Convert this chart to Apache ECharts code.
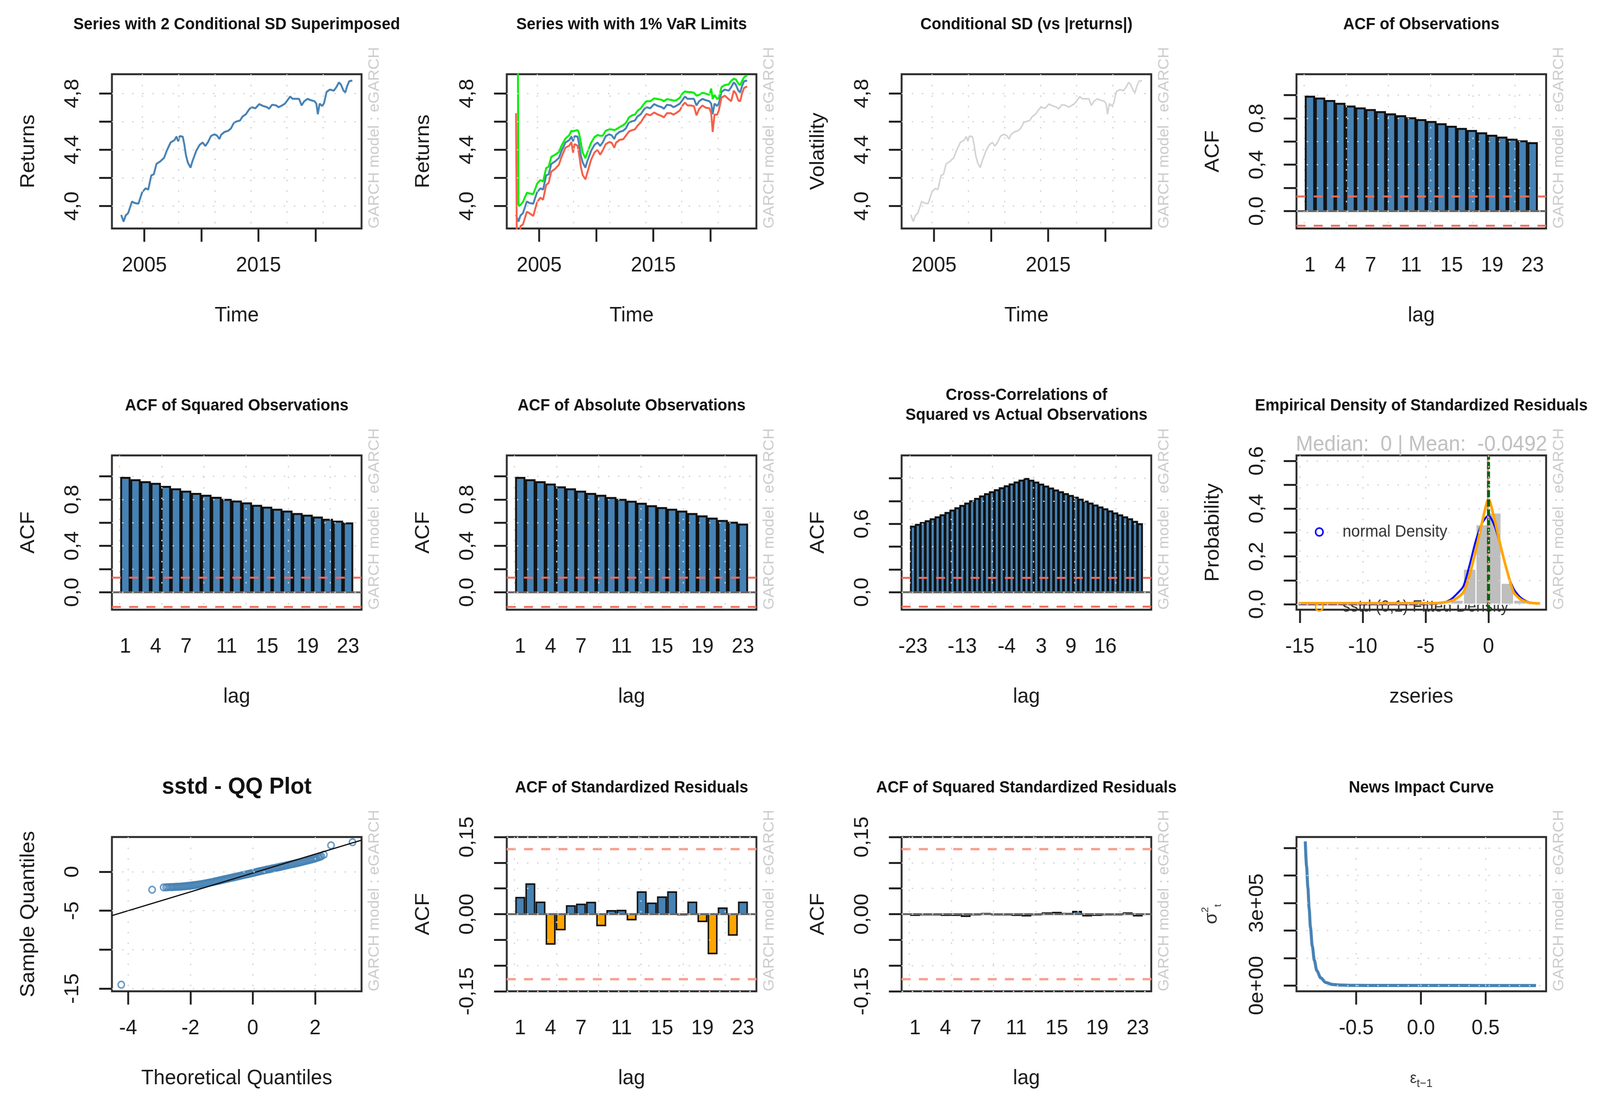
<!DOCTYPE html>
<html><head><meta charset="utf-8">
<script src="https://cdn.jsdelivr.net/npm/echarts@6/dist/echarts.min.js"></script>
<style>
html,body{margin:0;padding:0;background:#fff;overflow:hidden;width:100%;height:100%}
#wrap{position:fixed;left:0;top:0;width:100vw;height:100vh;overflow:hidden;background:#fff}
#c{position:absolute;left:0;top:0;width:4275px;height:2824px;transform-origin:0 0}
</style>
</head><body><div id="wrap"><div id="c"></div></div>
<script>
// ---------------- DATA ----------------
const years = [2002.97,2003.18,2003.36,2003.58,2003.92,2004.14,2004.48,2004.82,2005.11,2005.34,
2005.61,2005.83,2006.06,2006.40,2006.73,2006.96,2007.30,2007.64,2007.82,2007.97,
2008.09,2008.36,2008.49,2008.65,2008.81,2009.05,2009.21,2009.55,2009.84,2010.11,
2010.34,2010.56,2010.83,2011.13,2011.35,2011.58,2011.73,2012.03,2012.36,2012.59,
2012.86,2013.15,2013.38,2013.60,2013.90,2014.17,2014.39,2014.73,2015.07,2015.41,
2015.74,2015.92,2016.19,2016.53,2016.76,2016.98,2017.32,2017.55,2017.77,2018.00,
2018.27,2018.56,2018.78,2019.01,2019.30,2019.57,2019.91,2020.07,2020.20,2020.36,
2020.59,2020.74,2020.97,2021.26,2021.60,2021.82,2022.05,2022.23,2022.45,2022.61,
2022.77,2022.95,2023.22];
const returnsSeries = [3.938,3.890,3.933,3.950,4.033,4.022,4.017,4.100,4.126,4.117,
4.218,4.226,4.300,4.318,4.343,4.393,4.452,4.469,4.494,4.460,
4.497,4.494,4.444,4.360,4.310,4.273,4.318,4.393,4.435,4.452,
4.427,4.452,4.497,4.510,4.502,4.477,4.507,4.527,4.536,4.552,
4.594,4.603,4.608,4.636,4.653,4.686,4.703,4.695,4.725,4.711,
4.703,4.691,4.720,4.716,4.703,4.711,4.728,4.753,4.778,4.762,
4.762,4.762,4.715,4.745,4.762,4.753,4.745,4.728,4.653,4.728,
4.711,4.731,4.812,4.828,4.820,4.845,4.879,4.862,4.820,4.808,
4.853,4.887,4.892];
const varUpper = [9.000,4.000,4.008,4.030,4.095,4.090,4.085,4.160,4.185,4.175,
4.270,4.280,4.350,4.365,4.385,4.430,4.480,4.505,4.535,4.530,
4.535,4.540,4.520,4.450,4.380,4.340,4.380,4.450,4.490,4.505,
4.500,4.500,4.535,4.545,4.545,4.540,4.545,4.560,4.575,4.590,
4.630,4.645,4.650,4.675,4.695,4.725,4.745,4.745,4.765,4.760,
4.755,4.745,4.760,4.755,4.750,4.750,4.770,4.800,4.815,4.810,
4.810,4.805,4.785,4.790,4.805,4.800,4.790,4.835,4.760,4.790,
4.760,4.770,4.845,4.860,4.865,4.890,4.905,4.900,4.870,4.860,
4.890,4.915,4.930];
const varLower = [4.660,2.000,3.858,3.870,3.960,3.950,3.930,4.030,4.060,4.045,
4.150,4.165,4.245,4.265,4.295,4.350,4.415,4.430,4.455,4.380,
4.440,4.430,4.370,4.280,4.220,4.190,4.235,4.330,4.380,4.400,
4.365,4.395,4.440,4.455,4.450,4.415,4.450,4.470,4.475,4.500,
4.530,4.540,4.545,4.570,4.595,4.630,4.655,4.645,4.665,4.650,
4.640,4.630,4.660,4.660,4.650,4.660,4.680,4.715,4.735,4.715,
4.715,4.710,4.645,4.690,4.715,4.700,4.695,4.660,4.527,4.650,
4.650,4.680,4.770,4.785,4.760,4.745,4.820,4.800,4.750,4.745,
4.800,4.840,4.850];
const timeXTicks = [2005, 2010, 2015, 2020];
const timeXLabels = [2005, 2015];
const timeYTicks = [4.0, 4.2, 4.4, 4.6, 4.8];
const timeYLabels = [4.0, 4.4, 4.8];
const timeGridYears = [2004.82, 2008.01, 2011.18, 2014.32, 2017.47, 2020.65];

const lags = [1,2,3,4,5,6,7,8,9,10,11,12,13,14,15,16,17,18,19,20,21,22,23];
const acfObs = [0.986,0.970,0.949,0.925,0.901,0.885,0.871,0.853,0.834,0.818,0.800,0.784,0.768,0.749,0.727,0.709,0.691,0.671,0.650,0.634,0.616,0.602,0.586];
const acfSq  = [0.986,0.966,0.949,0.935,0.909,0.888,0.868,0.848,0.832,0.815,0.797,0.783,0.767,0.746,0.730,0.712,0.696,0.675,0.661,0.645,0.625,0.609,0.594];
const acfAbs = [0.986,0.966,0.949,0.929,0.905,0.888,0.868,0.848,0.832,0.813,0.797,0.781,0.763,0.742,0.726,0.712,0.696,0.675,0.655,0.635,0.615,0.600,0.584];
const acfLagLabels = [1, 4, 7, 11, 15, 19, 23];
const acfYTicks = [0, 0.2, 0.4, 0.6, 0.8, 1.0];
const acfYLabels = [0, 0.4, 0.8];
const confLimit = 0.1265;

const ccfLags = [-23,-22,-21,-20,-19,-18,-17,-16,-15,-14,-13,-12,-11,-10,-9,-8,-7,-6,-5,-4,-3,-2,-1,0,
  1,2,3,4,5,6,7,8,9,10,11,12,13,14,15,16,17,18,19,20,21,22,23];
const ccfVals = [0.576,0.591,0.607,0.623,0.640,0.657,0.675,0.696,0.716,0.737,0.757,0.778,0.798,0.819,0.840,0.860,0.877,0.895,0.912,0.929,0.946,0.963,0.979,0.994,
  0.978,0.962,0.944,0.927,0.910,0.893,0.877,0.861,0.845,0.829,0.812,0.795,0.778,0.761,0.744,0.727,0.709,0.691,0.674,0.657,0.640,0.618,0.597];
const ccfLagLabels = [-23, -13, -4, 3, 9, 16];
const ccfYLabels = [0, 0.6];

const histLeft = [-15, -4, -3, -2, -1, 0, 1, 2, 3];
const histBinWidth = 1;
const histDensity = [0.004, 0.004, 0.017, 0.147, 0.333, 0.382, 0.088, 0.017, 0.008];
const densX    = [-15.1, -5, -4, -3.5, -3, -2.5, -2, -1.5, -1, -0.5, 0, 0.5, 1, 1.5, 2, 2.5, 3, 3.5, 4.1];
const normDens = [0.000, 0.000, 0.003, 0.008, 0.020, 0.044, 0.075, 0.165, 0.268, 0.340, 0.372, 0.325, 0.235, 0.132, 0.064, 0.030, 0.013, 0.005, 0.002];
const sstdDens = [0.004, 0.004, 0.005, 0.008, 0.013, 0.026, 0.050, 0.122, 0.228, 0.345, 0.440, 0.350, 0.235, 0.135, 0.050, 0.022, 0.010, 0.005, 0.003];
const zMedian = 0;
const zMean = -0.0492;
const densXTicks = [-15, -10, -5, 0];
const densYTicks = [0, 0.1, 0.2, 0.3, 0.4, 0.5, 0.6];
const densYLabels = [0, 0.2, 0.4, 0.6];

const qqX = [-4.22,-3.23,-2.86,-2.78,-2.72,-2.65,-2.6,-2.55,-2.5,-2.45,-2.4,-2.35,-2.3,-2.25,-2.2,-2.15,-2.1,-2.05,-2.0,-1.95,-1.9,-1.85,-1.8,-1.75,-1.7,-1.65,-1.6,-1.55,-1.5,-1.45,-1.4,-1.35,-1.3,-1.25,-1.2,-1.15,-1.1,-1.05,-1.0,
  -0.95,-0.9,-0.85,-0.8,-0.75,-0.7,-0.65,-0.6,-0.55,-0.5,-0.45,-0.4,-0.35,-0.3,-0.25,-0.2,-0.15,-0.1,-0.05,0.0,0.05,0.1,0.15,0.2,0.25,0.3,0.35,0.4,0.45,0.5,0.55,0.6,0.65,0.7,0.75,0.8,0.85,0.9,0.95,1.0,
  1.05,1.1,1.15,1.2,1.25,1.3,1.35,1.4,1.45,1.5,1.55,1.6,1.65,1.7,1.75,1.8,1.85,1.9,1.95,2.0,2.05,2.1,2.15,2.2,2.28,2.51,3.2];
const qqY = [-14.5,-2.3,-2.0,-1.99,-1.98,-1.97,-1.96,-1.95,-1.94,-1.93,-1.92,-1.91,-1.9,-1.88,-1.86,-1.84,-1.82,-1.80,-1.78,-1.755,-1.73,-1.705,-1.68,-1.65,-1.62,-1.585,-1.55,-1.515,-1.48,-1.44,-1.40,-1.36,-1.32,-1.275,-1.23,-1.185,-1.14,-1.095,-1.05,
  -1.005,-0.96,-0.915,-0.87,-0.825,-0.78,-0.735,-0.69,-0.645,-0.60,-0.555,-0.51,-0.465,-0.42,-0.375,-0.33,-0.285,-0.24,-0.195,-0.15,-0.10,-0.05,0.0,0.05,0.095,0.14,0.185,0.23,0.275,0.32,0.36,0.40,0.44,0.48,0.525,0.57,0.615,0.66,0.705,0.75,
  0.795,0.84,0.885,0.93,0.975,1.02,1.065,1.11,1.155,1.20,1.25,1.30,1.35,1.40,1.45,1.50,1.55,1.60,1.66,1.72,1.785,1.85,1.925,2.0,2.2,3.4,3.8];
const qqLineX = [-4.52, 3.49];
const qqLineY = [-5.63, 4.07];
const qqXTicks = [-4, -2, 0, 2];
const qqYTicks = [0, -5, -10, -15];
const qqYLabels = [0, -5, -15];

const residAcf = [0.032,0.0585,0.023,-0.058,-0.030,0.016,0.019,0.0226,-0.022,0.0065,0.007,-0.0106,0.043,0.021,0.033,0.043,-0.001,0.023,-0.014,-0.0765,0.0115,-0.0405,0.023];
const sqResidAcf = [-0.002,-0.001,-0.001,-0.002,-0.002,-0.004,-0.001,0.001,-0.001,-0.001,-0.002,-0.003,-0.001,0.002,0.003,0.001,0.005,-0.003,-0.002,-0.001,-0.001,0.002,-0.003];
const residYTicks = [-0.15, -0.10, -0.05, 0, 0.05, 0.10, 0.15];
const residYLabels = [-0.15, 0, 0.15];

const nicX = [-0.894,-0.884,-0.874,-0.864,-0.854,-0.840,-0.824,-0.805,-0.775,-0.735,-0.686,-0.626,-0.517,-0.3,0,0.3,0.6,0.89];
const nicY = [524000,434000,357000,280000,212000,144000,92000,54000,28000,11000,4000,1700,500,200,150,130,110,100];
const nicXTicks = [-0.5, 0, 0.5];
const nicYTicks = [0, 100000, 200000, 300000, 400000, 500000];
const nicYLabels = [0, 300000];

// ---------------- LAYOUT / STYLE ----------------
const FONT = "'Liberation Sans', Arial, Helvetica, sans-serif";
const COLS = [299, 1354, 2409, 3464];
const ROWS = [190, 1166, 2143];
const BOX_W = 667, BOX_H = 395;
const TITLE_Y = [63, 1039, 2017];
const TEXT = '#1a1a1a';
const LBL = 54;
const GRID_LINE = {type: [4, 23], color: '#D3D3D3', width: 3};
// barplot geometry (R barplot width 1, space 0.2) expressed in lag units
const ACF_XMIN = -0.33, ACF_XMAX = 24.33;
const ACF_GRID = [0.417, 4.583, 8.75, 12.917, 17.083, 21.25];
const CCF_XMIN = -25.29, CCF_XMAX = 25.29;
const CCF_GRID = [-23.583, -15.25, -6.917, 1.417, 9.75, 18.083];
const BAR_HALF = 0.4167;

const grids = [], xAxes = [], yAxes = [], series = [], graphics = [];
const comma = d => v => v.toFixed(d).replace('.', ',');

function panel(o) {
  const g = grids.length;
  const left = COLS[o.col], top = ROWS[o.row];
  grids.push({left, top, width: BOX_W, height: BOX_H, show: true, borderColor: '#2b2b2b', borderWidth: 5, backgroundColor: '#fff', containLabel: false});
  const xi = xAxes.length;
  xAxes.push({
    type: 'value', gridIndex: g, position: 'bottom', min: o.xmin, max: o.xmax,
    axisLine: {show: false, onZero: false},
    axisTick: {show: !!o.xTicks, length: 34, lineStyle: {color: '#222', width: 5}, customValues: o.xTicks || o.xLabels},
    axisLabel: {show: true, customValues: o.xLabels, formatter: o.xFmt, fontSize: LBL, color: TEXT, fontFamily: FONT, margin: 68},
    splitLine: {show: false},
    name: o.xName, nameLocation: 'middle', nameGap: 196,
    nameTextStyle: Object.assign({fontSize: LBL, color: TEXT, fontFamily: FONT}, o.xNameStyle || {})
  });
  xAxes.push({
    type: 'value', gridIndex: g, position: 'top', min: o.xmin, max: o.xmax, z: 6,
    axisLine: {show: false, onZero: false}, axisTick: {show: false, customValues: o.xGrid},
    axisLabel: {show: false}, splitLine: {show: true, lineStyle: GRID_LINE}
  });
  const yi = yAxes.length;
  yAxes.push({
    type: 'value', gridIndex: g, position: 'left', min: o.ymin, max: o.ymax,
    axisLine: {show: false, onZero: false},
    axisTick: {show: true, length: 34, lineStyle: {color: '#222', width: 5}, customValues: o.yTicks},
    axisLabel: {show: true, customValues: o.yLabels, formatter: o.yFmt, rotate: 90, fontSize: LBL, color: TEXT, fontFamily: FONT, margin: 78},
    splitLine: {show: false},
    name: o.yName, nameLocation: 'middle', nameGap: 196,
    nameTextStyle: Object.assign({fontSize: LBL, color: TEXT, fontFamily: FONT}, o.yNameStyle || {})
  });
  yAxes.push({
    type: 'value', gridIndex: g, position: 'right', min: o.ymin, max: o.ymax, z: 6,
    axisLine: {show: false, onZero: false}, axisTick: {show: false, customValues: o.yGrid || o.yTicks},
    axisLabel: {show: false}, splitLine: {show: true, lineStyle: GRID_LINE}
  });
  graphics.push({type: 'text', x: left + BOX_W / 2, y: o.titleY || TITLE_Y[o.row], z: 10,
    style: {text: o.title, fontSize: o.titleSize || 42, fontWeight: 'bold', fontFamily: FONT, fill: '#111', align: 'center', verticalAlign: 'middle', lineHeight: 51}});
  graphics.push({type: 'text', x: left + BOX_W + 35, y: top + BOX_H, rotation: Math.PI / 2, z: 10,
    style: {text: 'GARCH model : eGARCH', fontSize: 40, fontFamily: FONT, fill: '#CCCCCC', align: 'left', verticalAlign: 'middle'}});
  return {g, xi, yi, left, top, o};
}

function hline(p, yv, color, width, type, z) {
  series.push({type: 'line', xAxisIndex: p.xi, yAxisIndex: p.yi, symbol: 'none', silent: true, z: z || 3,
    data: [[p.o.xmin, yv], [p.o.xmax, yv]], lineStyle: {color, width, type: type || 'solid'}});
}
function vline(p, xv, color, width, type, z) {
  series.push({type: 'line', xAxisIndex: p.xi, yAxisIndex: p.yi, symbol: 'none', silent: true, z: z || 3,
    data: [[xv, p.o.ymin], [xv, p.o.ymax]], lineStyle: {color, width, type: type || 'solid'}});
}
function bars(p, xs, vals, pos, neg, bw) {
  series.push({type: 'custom', xAxisIndex: p.xi, yAxisIndex: p.yi, clip: true, z: 2,
    data: xs.map((x, i) => [x, vals[i]]), encode: {x: 0, y: 1},
    renderItem: (params, api) => {
      const x = api.value(0), v = api.value(1);
      const a = api.coord([x - BAR_HALF, v]), b = api.coord([x + BAR_HALF, 0]);
      return {type: 'rect', shape: {x: a[0], y: Math.min(a[1], b[1]), width: b[0] - a[0], height: Math.abs(b[1] - a[1])},
        style: {fill: v >= 0 ? pos : neg, stroke: '#111', lineWidth: bw || 5}};
    }});
}

// ---------------- PANELS ----------------
const TIME = {xmin: 2002.16, xmax: 2024.03, ymin: 3.841, ymax: 4.937,
  xTicks: timeXTicks, xLabels: timeXLabels, xFmt: v => String(v), xGrid: timeGridYears,
  yTicks: timeYTicks, yLabels: timeYLabels, yFmt: comma(1), xName: 'Time'};
function line(p, vals, color, width, z) {
  series.push({type: 'line', xAxisIndex: p.xi, yAxisIndex: p.yi, symbol: 'none', clip: true, z: z || 2,
    data: years.map((t, i) => [t, vals[i]]), lineStyle: {color, width}});
}
const p1 = panel(Object.assign({col: 0, row: 0, title: 'Series with 2 Conditional SD Superimposed', yName: 'Returns'}, TIME));
line(p1, returnsSeries, '#4682B4', 5);
const p2 = panel(Object.assign({col: 1, row: 0, title: 'Series with with 1% VaR Limits', yName: 'Returns'}, TIME));
line(p2, returnsSeries, '#4682B4', 5);
line(p2, varUpper, '#00EE00', 5, 3);
line(p2, varLower, '#F4604A', 5, 3);
const p3 = panel(Object.assign({col: 2, row: 0, title: 'Conditional SD (vs |returns|)', yName: 'Volatility'}, TIME));
line(p3, returnsSeries, '#D3D3D3', 4);

function acfPanel(col, row, title, vals, limColor) {
  const p = panel({col, row, title, xmin: ACF_XMIN, xmax: ACF_XMAX, ymin: -0.15, ymax: 1.18,
    xLabels: acfLagLabels, xFmt: v => String(v), xGrid: ACF_GRID,
    yTicks: acfYTicks, yLabels: acfYLabels, yFmt: comma(1), xName: 'lag', yName: 'ACF'});
  bars(p, lags, vals, '#4682B4', '#FFA500', 5);
  hline(p, 0, '#666', 5);
  hline(p, confLimit, limColor, 5, [24, 22]);
  hline(p, -confLimit, limColor, 5, [24, 22]);
  return p;
}
acfPanel(3, 0, 'ACF of Observations', acfObs, '#F26B5B');
acfPanel(0, 1, 'ACF of Squared Observations', acfSq, '#F26B5B');
acfPanel(1, 1, 'ACF of Absolute Observations', acfAbs, '#F26B5B');

const p7 = panel({col: 2, row: 1, title: 'Cross-Correlations of\nSquared vs Actual Observations', titleY: 1038,
  xmin: CCF_XMIN, xmax: CCF_XMAX, ymin: -0.153, ymax: 1.2,
  xLabels: ccfLagLabels, xFmt: v => String(v), xGrid: CCF_GRID,
  yTicks: acfYTicks, yLabels: ccfYLabels, yFmt: comma(1), xName: 'lag', yName: 'ACF'});
bars(p7, ccfLags, ccfVals, '#4682B4', '#FFA500', 5);
hline(p7, 0, '#666', 5);
hline(p7, confLimit, '#F26B5B', 5, [24, 22]);
hline(p7, -confLimit, '#F26B5B', 5, [24, 22]);

const p8 = panel({col: 3, row: 1, title: 'Empirical Density of Standardized Residuals',
  xmin: -15.27, xmax: 4.58, ymin: -0.023, ymax: 0.623,
  xTicks: densXTicks, xLabels: densXTicks, xFmt: v => String(v), xGrid: densXTicks,
  yTicks: densYTicks, yLabels: densYLabels, yFmt: comma(1), xName: 'zseries', yName: 'Probability'});
graphics.push({type: 'text', x: 3587, y: 1554, z: 0,
  style: {text: 'sstd (0,1) Fitted Density', fontSize: 42, fontFamily: FONT, fill: '#333', align: 'left', verticalAlign: 'middle'}});
series.push({type: 'custom', xAxisIndex: p8.xi, yAxisIndex: p8.yi, clip: true, z: 2,
  data: histLeft.map((l, i) => [l, l + histBinWidth, histDensity[i]]), encode: {x: [0, 1], y: 2},
  renderItem: (params, api) => {
    const a = api.coord([api.value(0), api.value(2)]), b = api.coord([api.value(1), 0]);
    return {type: 'rect', shape: {x: a[0], y: a[1], width: b[0] - a[0], height: b[1] - a[1]},
      style: {fill: '#BEBEBE', stroke: '#fff', lineWidth: 3}};
  }});
series.push({type: 'line', xAxisIndex: p8.xi, yAxisIndex: p8.yi, symbol: 'none', smooth: 0.25, clip: true, z: 3,
  data: densX.map((x, i) => [x, normDens[i]]), lineStyle: {color: '#0000FF', width: 5}});
series.push({type: 'line', xAxisIndex: p8.xi, yAxisIndex: p8.yi, symbol: 'none', smooth: 0.25, clip: true, z: 3,
  data: densX.map((x, i) => [x, sstdDens[i]]), lineStyle: {color: '#FFA500', width: 7}});
vline(p8, zMean, '#F08080', 5, 'solid', 4);
vline(p8, zMedian, '#006400', 8, [18, 6], 4);
graphics.push({type: 'text', x: 3798, y: 1139, z: 10,
  style: {text: 'Median:  0 | Mean:  -0.0492', fontSize: 55, fontFamily: FONT, fill: '#C0C0C0', align: 'center', verticalAlign: 'middle'}});
graphics.push({type: 'circle', shape: {cx: 3525, cy: 1362, r: 10}, z: 10, style: {fill: 'none', stroke: '#0000FF', lineWidth: 4}});
graphics.push({type: 'text', x: 3587, y: 1362, z: 10,
  style: {text: 'normal Density', fontSize: 42, fontFamily: FONT, fill: '#333', align: 'left', verticalAlign: 'middle'}});
graphics.push({type: 'circle', shape: {cx: 3525, cy: 1554, r: 10}, z: 10, style: {fill: 'none', stroke: '#FFA500', lineWidth: 4}});

const p9 = panel({col: 0, row: 2, title: 'sstd - QQ Plot', titleSize: 60, titleY: 2015,
  xmin: -4.52, xmax: 3.49, ymin: -15.35, ymax: 4.47,
  xTicks: qqXTicks, xLabels: qqXTicks, xFmt: v => String(v), xGrid: qqXTicks,
  yTicks: qqYTicks, yLabels: qqYLabels, yFmt: v => String(v), xName: 'Theoretical Quantiles', yName: 'Sample Quantiles'});
series.push({type: 'scatter', xAxisIndex: p9.xi, yAxisIndex: p9.yi, symbol: 'circle', symbolSize: 17, clip: true, z: 2,
  data: qqX.map((x, i) => [x, qqY[i]]), itemStyle: {color: 'rgba(0,0,0,0)', borderColor: '#4682B4', borderWidth: 4}});
series.push({type: 'line', xAxisIndex: p9.xi, yAxisIndex: p9.yi, symbol: 'none', clip: true, z: 3,
  data: qqLineX.map((x, i) => [x, qqLineY[i]]), lineStyle: {color: '#111', width: 3}});

function residPanel(col, title, vals) {
  const p = panel({col, row: 2, title, xmin: ACF_XMIN, xmax: ACF_XMAX, ymin: -0.15, ymax: 0.15,
    xLabels: acfLagLabels, xFmt: v => String(v), xGrid: ACF_GRID,
    yTicks: residYTicks, yLabels: residYLabels, yFmt: comma(2), xName: 'lag', yName: 'ACF'});
  bars(p, lags, vals, '#4682B4', '#FFA500', 4);
  hline(p, 0, '#666', 5);
  hline(p, confLimit, '#F9A090', 6, [24, 22]);
  hline(p, -confLimit, '#F9A090', 6, [24, 22]);
}
residPanel(1, 'ACF of Standardized Residuals', residAcf);
residPanel(2, 'ACF of Squared Standardized Residuals', sqResidAcf);

const sciFmt = v => {
  if (v === 0) return '0e+00';
  const e = Math.floor(Math.log10(Math.abs(v)));
  return Math.round(v / Math.pow(10, e)) + 'e+' + String(e).padStart(2, '0');
};
const p12 = panel({col: 3, row: 2, title: 'News Impact Curve',
  xmin: -0.962, xmax: 0.968, ymin: -21000, ymax: 540000,
  xTicks: nicXTicks, xLabels: nicXTicks, xFmt: v => v.toFixed(1), xGrid: nicXTicks,
  yTicks: nicYTicks, yLabels: nicYLabels, yFmt: sciFmt,
  xName: '{e|ε}{s|t−1}', yName: '{e|σ}{p|2}{s|t}',
  xNameStyle: {rich: {e: {fontSize: 40, lineHeight: 56, verticalAlign: 'middle', color: '#333', fontFamily: FONT},
                      s: {fontSize: 30, lineHeight: 56, verticalAlign: 'bottom', color: '#333', fontFamily: FONT}}},
  yNameStyle: {rich: {e: {fontSize: 48, lineHeight: 60, verticalAlign: 'middle', color: '#333', fontFamily: FONT},
                      p: {fontSize: 26, lineHeight: 60, verticalAlign: 'top', color: '#333', fontFamily: FONT},
                      s: {fontSize: 26, lineHeight: 60, verticalAlign: 'bottom', color: '#333', fontFamily: FONT}}}});
series.push({type: 'line', xAxisIndex: p12.xi, yAxisIndex: p12.yi, symbol: 'none', clip: true, z: 3,
  smooth: 0.3, smoothMonotone: 'x',
  data: nicX.map((x, i) => [x, nicY[i]]), lineStyle: {color: '#4682B4', width: 8}});

// ---------------- CHART ----------------
// fit the 4275x2824 drawing into whatever CSS viewport the browser reports
const el = document.getElementById('c');
const vw = document.documentElement.clientWidth || window.innerWidth || 4275;
const vh = document.documentElement.clientHeight || window.innerHeight || 2824;
el.style.transform = 'scale(' + (vw / 4275) + ',' + (vh / 2824) + ')';
const chart = echarts.init(el, null, {renderer: 'canvas', width: 4275, height: 2824});
chart.setOption({
  backgroundColor: '#fff',
  animation: false,
  textStyle: {fontFamily: FONT},
  grid: grids, xAxis: xAxes, yAxis: yAxes, series,
  graphic: {elements: graphics}
});
</script></body></html>
